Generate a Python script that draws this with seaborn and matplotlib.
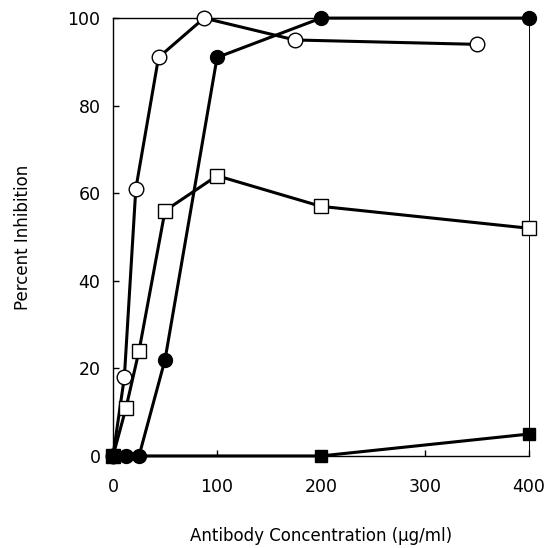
import matplotlib
matplotlib.use("Agg")
import matplotlib.pyplot as plt
import seaborn as sns
import pandas as pd

sns.set_style("ticks")
plt.rcParams['font.family'] = ['DejaVu Sans']
plt.rcParams['text.color'] = 'black'
plt.rcParams['axes.labelcolor'] = 'black'
plt.rcParams['xtick.color'] = 'black'
plt.rcParams['ytick.color'] = 'black'

# data
open_circle_x = [0, 10.9, 21.9, 43.75, 87.5, 175, 350]
open_circle_y = [0, 18, 61, 91, 100, 95, 94]
filled_circle_x = [0, 12.5, 25, 50, 100, 200, 400]
filled_circle_y = [0, 0, 0, 22, 91, 100, 100]
open_square_x = [0, 12.5, 25, 50, 100, 200, 400]
open_square_y = [0, 11, 24, 56, 64, 57, 52]
filled_square_x = [0, 200, 400]
filled_square_y = [0, 0, 5]

x_ticks = [0, 100, 200, 300, 400]
y_ticks = [0, 20, 40, 60, 80, 100]

fig = plt.figure(figsize=(5.5, 5.48), dpi=100)
ax = fig.add_axes([0.2055, 0.168, 0.7565, 0.799])

series = [
    (open_circle_x, open_circle_y, 'o', 'white', 10.5),
    (open_square_x, open_square_y, 's', 'white', 10),
    (filled_circle_x, filled_circle_y, 'o', 'black', 10),
    (filled_square_x, filled_square_y, 's', 'black', 9),
]
for i, (xs, ys, mk, fc, ms) in enumerate(series):
    df = pd.DataFrame({"x": xs, "y": ys})
    sns.lineplot(data=df, x="x", y="y", ax=ax, color="black", linewidth=2.2,
                 marker=mk, markersize=ms, markerfacecolor=fc,
                 markeredgecolor="black", markeredgewidth=1.0,
                 clip_on=False, sort=False, zorder=3 + i)

ax.set_xlim(0, 400)
ax.set_ylim(0, 100)
ax.set_xticks(x_ticks)
ax.set_yticks(y_ticks)
ax.tick_params(direction="in", length=4, width=1, labelsize=12.5)
ax.tick_params(axis="x", pad=16)
ax.tick_params(axis="y", pad=9)
for s in ax.spines.values():
    s.set_linewidth(1.0)
    s.set_color("black")
ax.spines['right'].set_linewidth(0.7)
ax.set_xlabel("Antibody Concentration (µg/ml)", fontsize=12, va="center")
ax.set_ylabel("Percent Inhibition", fontsize=12, va="center")
ax.xaxis.set_label_coords(0.5, -0.183)
ax.yaxis.set_label_coords(-0.216, 0.5)

fig.savefig("out.png", dpi=100)
